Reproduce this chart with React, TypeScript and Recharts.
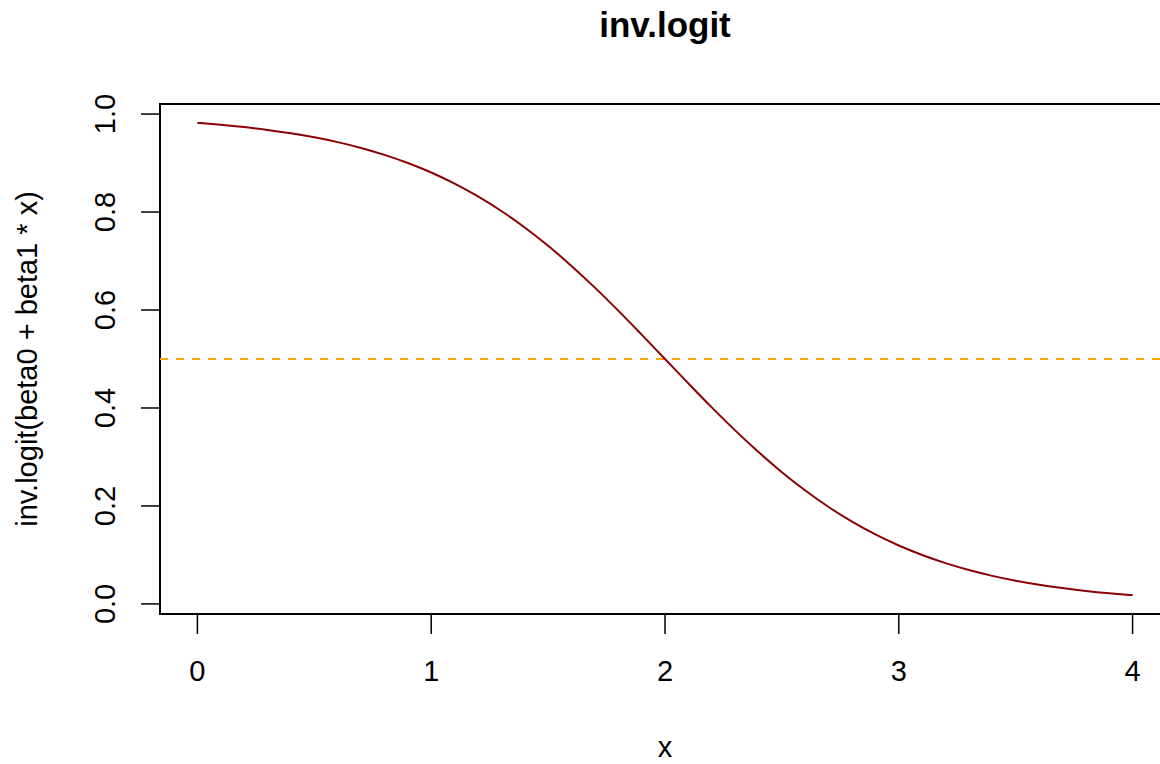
import React from "react";
import {
  LineChart,
  Line,
  XAxis,
  YAxis,
  ReferenceLine,
  ReferenceArea,
  Label,
} from "recharts";

// x values along the curve
const xs = [
  0, 0.1, 0.2, 0.3, 0.4, 0.5, 0.6, 0.7, 0.8, 0.9, 1, 1.1, 1.2, 1.3, 1.4, 1.5,
  1.6, 1.7, 1.8, 1.9, 2, 2.1, 2.2, 2.3, 2.4, 2.5, 2.6, 2.7, 2.8, 2.9, 3, 3.1,
  3.2, 3.3, 3.4, 3.5, 3.6, 3.7, 3.8, 3.9, 4,
];

// inv.logit(beta0 + beta1 * x)
const probs = [
  0.982, 0.9781, 0.9734, 0.9677, 0.9608, 0.9526, 0.9427, 0.9309, 0.9168,
  0.9002, 0.8808, 0.8581, 0.832, 0.8022, 0.7685, 0.7311, 0.69, 0.6457, 0.5987,
  0.5498, 0.5, 0.4502, 0.4013, 0.3543, 0.31, 0.2689, 0.2315, 0.1978, 0.168,
  0.1419, 0.1192, 0.0998, 0.0832, 0.0691, 0.0573, 0.0474, 0.0392, 0.0323,
  0.0266, 0.0219, 0.018,
];

const xTicks = [0, 1, 2, 3, 4];
const yTicks = [0, 0.2, 0.4, 0.6, 0.8, 1.0];
const cutoff = 0.5;

const FONT = '"Liberation Sans", Arial, Helvetica, sans-serif';

const data = xs.map((x, i) => ({ x, p: probs[i] }));

// R pads the axis range by 4% on both sides
const xMin = 0 - 0.04 * 4;
const xMax = 4 + 0.04 * 4;
const yLo = 0.018 - 0.04 * (0.982 - 0.018);
const yHi = 0.982 + 0.04 * (0.982 - 0.018);

const YTick = (props: any) => {
  const { x, y, payload } = props;
  return (
    <text
      x={x}
      y={y}
      transform={`rotate(-90, ${x}, ${y})`}
      textAnchor="middle"
      fontSize={29}
      fontFamily={FONT}
      fill="#000"
    >
      {Number(payload.value).toFixed(1)}
    </text>
  );
};

export default function App() {
  return (
    <div
      style={{
        position: "absolute",
        left: 0,
        top: 0,
        width: 1160,
        height: 764,
        overflow: "hidden",
        background: "#fff",
      }}
    >
      <LineChart
        width={1171}
        height={764}
        data={data}
        margin={{ top: 104, right: 1, bottom: 0, left: 0 }}
      >
        <XAxis
          dataKey="x"
          type="number"
          domain={[xMin, xMax]}
          ticks={xTicks}
          allowDataOverflow
          height={150}
          axisLine={false}
          tickSize={20}
          tickMargin={26}
          tickLine={{ stroke: "#000", strokeWidth: 1.5 }}
          tick={{ fontSize: 29, fontFamily: FONT, fill: "#000" }}
        >
          <Label
            content={(p: any) => {
              const vb = p.viewBox;
              return (
                <text
                  x={vb.x + vb.width / 2}
                  y={vb.y + 143}
                  textAnchor="middle"
                  fontSize={29}
                  fontFamily={FONT}
                  fill="#000"
                >
                  x
                </text>
              );
            }}
          />
        </XAxis>
        <YAxis
          type="number"
          domain={[yLo, yHi]}
          ticks={yTicks}
          allowDataOverflow
          width={160}
          axisLine={false}
          tickSize={19}
          tickMargin={26}
          tickLine={{ stroke: "#000", strokeWidth: 1.5 }}
          tick={<YTick />}
        >
          <Label
            content={(p: any) => {
              const vb = p.viewBox;
              const cx = 37;
              const cy = vb.y + vb.height / 2;
              return (
                <text
                  x={cx}
                  y={cy}
                  transform={`rotate(-90, ${cx}, ${cy})`}
                  textAnchor="middle"
                  fontSize={29}
                  fontFamily={FONT}
                  fill="#000"
                >
                  inv.logit(beta0 + beta1 * x)
                </text>
              );
            }}
          />
        </YAxis>
        <ReferenceArea
          x1={xMin}
          x2={xMax}
          y1={yLo}
          y2={yHi}
          fill="none"
          stroke="#000"
          strokeWidth={2}
          ifOverflow="visible"
        />
        <ReferenceLine
          y={cutoff}
          stroke="#FFA500"
          strokeWidth={2}
          strokeDasharray="8 8"
        />
        <Line
          dataKey="p"
          type="monotone"
          stroke="#8B0000"
          strokeWidth={2}
          dot={false}
          isAnimationActive={false}
        />
      </LineChart>
      <svg
        width={1160}
        height={60}
        style={{ position: "absolute", left: 0, top: 0 }}
      >
        <text
          x={665}
          y={37}
          textAnchor="middle"
          fontSize={35}
          fontWeight="bold"
          fontFamily={FONT}
          fill="#000"
        >
          inv.logit
        </text>
      </svg>
    </div>
  );
}
